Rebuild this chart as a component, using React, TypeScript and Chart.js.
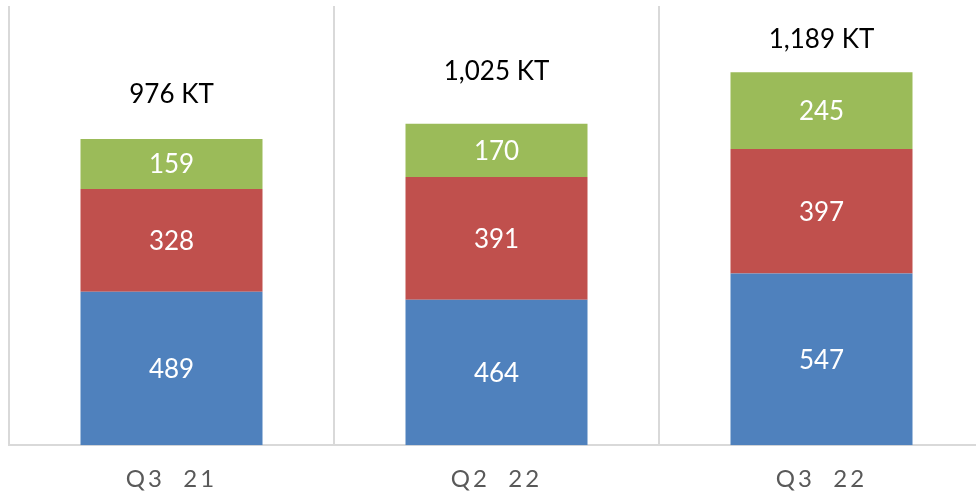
import React, { useEffect, useRef } from "react";
import { Chart, registerables } from "chart.js";

Chart.register(...registerables);

const categories = ["Q3  21", "Q2  22", "Q3  22"];
const blueValues = [489, 464, 547];
const redValues = [328, 391, 397];
const greenValues = [159, 170, 245];
const totalLabels = ["976 KT", "1,025 KT", "1,189 KT"];
const totalLabelAt = [1116, 1190, 1292];

const FONT = "Lato, 'Open Sans', sans-serif";

const labelPlugin = {
  id: "labels",
  beforeDraw(chart: any) {
    (chart.ctx as any).letterSpacing = "3px";
  },
  afterDatasetsDraw(chart: any) {
    const ctx = chart.ctx;
    ctx.save();
    (ctx as any).letterSpacing = "0px";
    ctx.font = `26px ${FONT}`;
    ctx.textAlign = "center";
    ctx.textBaseline = "middle";
    chart.data.datasets.forEach((ds: any, di: number) => {
      const meta = chart.getDatasetMeta(di);
      meta.data.forEach((bar: any, i: number) => {
        const mid = (bar.y + bar.base) / 2;
        ctx.fillStyle = "#ffffff";
        ctx.fillText(String(ds.data[i]), bar.x, mid + 1);
      });
    });
    const yScale = chart.scales.y;
    const meta0 = chart.getDatasetMeta(0);
    ctx.fillStyle = "#000000";
    totalLabels.forEach((t, i) => {
      const x = meta0.data[i].x;
      ctx.fillText(t, x, yScale.getPixelForValue(totalLabelAt[i]));
    });
    ctx.restore();
  },
};

export default function App() {
  const ref = useRef<HTMLCanvasElement>(null);
  useEffect(() => {
    if (!ref.current) return;
    const chart = new Chart(ref.current, {
      type: "bar",
      data: {
        labels: categories,
        datasets: [
          { data: blueValues, backgroundColor: "#4f81bd" },
          { data: redValues, backgroundColor: "#c0504d" },
          { data: greenValues, backgroundColor: "#9bbb59" },
        ],
      },
      options: {
        animation: false,
        responsive: false,
        maintainAspectRatio: false,
        layout: { padding: { left: 9, right: 16, top: 6, bottom: 0 } },
        datasets: { bar: { barPercentage: 0.56, categoryPercentage: 1 } },
        plugins: { legend: { display: false }, tooltip: { enabled: false } },
        scales: {
          x: {
            stacked: true,
            grid: { display: true, offset: true, color: "#d9d9d9", lineWidth: 2, drawTicks: false },
            border: { display: true, color: "#d9d9d9", width: 2 },
            ticks: { color: "#595959", font: { family: FONT, size: 24 }, padding: 20 },
          },
          y: {
            stacked: true,
            display: false,
            min: 0,
            max: 1400,
          },
        },
      },
      plugins: [labelPlugin],
    });
    return () => chart.destroy();
  }, []);
  return (
    <div style={{ position: "fixed", left: 0, top: 0, width: 976, height: 495, overflow: "hidden", background: "#fff" }}>
      <canvas ref={ref} width={1000} height={514} style={{ display: "block" }} />
    </div>
  );
}
